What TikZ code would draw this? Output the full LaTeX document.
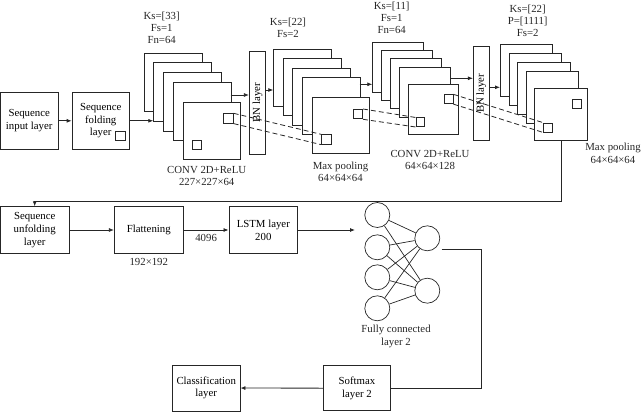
\documentclass[tikz,border=0pt]{standalone}
\usepackage{fontspec}
\setmainfont{Liberation Serif}
\usepackage{graphicx}
\usetikzlibrary{arrows.meta,positioning}

\begin{document}
\begin{tikzpicture}[x=1pt,y=-1pt]
    \useasboundingbox (0,0) rectangle (641,412);
    \tikzset{
      box/.style={draw=black!85, fill=white, align=center, inner sep=1pt, line width=0.8pt,
                  font=\fontsize{10.8}{12.7}\selectfont},
      sheet/.style={draw=black!85, fill=white, anchor=north west, inner sep=0pt, line width=0.8pt},
      tiny/.style={draw=black!85, anchor=north west, inner sep=0pt, minimum size=9.5pt, line width=0.8pt},
      lbl/.style={align=center, inner sep=0pt, text=black!85, font=\fontsize{10.8}{12.2}\selectfont},
      neuron/.style={draw=black!85, circle, minimum size=25pt, inner sep=0pt, line width=0.7pt},
      arr/.style={draw=black!85, -{Latex[length=5pt,width=4pt]}, line width=0.8pt},
      link/.style={draw=black!85, line width=0.8pt, dash pattern=on 5pt off 3pt}
    }

    % input side
    \node[box, minimum width=57.5pt, minimum height=57pt] (input) at (29.2,120.8) {Sequence\\input layer};
    \node[box, minimum width=57.3pt, minimum height=57pt] (fold) at (100.7,120.8) {Sequence\\folding\\layer};
    \node[tiny] (fsq) at (115,131) {};

    % conv 1
    \foreach \i in {0,...,3}
      \node[sheet, minimum width=58pt, minimum height=58.5pt] (s1-\i) at ({143.5+9.75*\i},{52.7+9.75*\i}) {};
    \node[sheet, minimum size=57.5pt] (s1f) at (182.5,101.7) {};
    \node[tiny] (q1u) at (223.3,113.3) {};
    \node[tiny] (q1l) at (191.7,140) {};

    \node[box, minimum width=16.4pt, minimum height=103.3pt] (bn1) at (257.5,102.7) {\rotatebox{90}{BN layer}};

    % pool 1
    \foreach \i in {0,...,3}
      \node[sheet, minimum width=58pt, minimum height=57pt] (s2-\i) at ({273.3+9.5*\i},{49+9.45*\i}) {};
    \node[sheet, minimum width=57.3pt, minimum height=56.6pt] (s2f) at (311.7,96.7) {};
    \node[tiny] (q2u) at (352.7,109) {};
    \node[tiny] (q2l) at (321,134.3) {};

    % conv 2
    \foreach \i in {0,...,3}
      \node[sheet, minimum width=50.5pt, minimum height=50pt] (s3-\i) at ({372.3+9*\i},{41.7+8.35*\i}) {};
    \node[sheet, minimum size=50pt] (s3f) at (408.3,84.3) {};
    \node[tiny, minimum size=9pt] (q3u) at (443.5,94.3) {};
    \node[tiny, minimum size=8.7pt] (q3l) at (415.7,117.5) {};

    \node[box, minimum width=15.7pt, minimum height=93.3pt] (bn2) at (481.2,93.3) {\rotatebox{90}{BN layer}};

    % pool 2
    \foreach \i in {0,...,3}
      \node[sheet, minimum width=52.3pt, minimum height=52pt] (s4-\i) at ({500+8.7*\i},{44.3+8.8*\i}) {};
    \node[sheet, minimum width=53pt, minimum height=51.7pt] (s4f) at (534.3,88.3) {};
    \node[tiny, minimum size=9pt] (q4u) at (571.7,99) {};
    \node[tiny, minimum size=9pt] (q4l) at (543.3,122.7) {};

    % labels of the maps
    \node[lbl] (k1) at (161.7,27.8) {Ks=[33]\\Fs=1\\Fn=64};
    \node[lbl] (k2) at (288,28) {Ks=[22]\\Fs=2};
    \node[lbl] (k3) at (391.7,18) {Ks=[11]\\Fs=1\\Fn=64};
    \node[lbl] (k4) at (527.7,21) {Ks=[22]\\P=[1111]\\Fs=2};
    \node[lbl] (c1) at (206.7,175.7) {CONV 2D+ReLU\\227×227×64};
    \node[lbl] (c2) at (340.5,171.5) {Max pooling\\64×64×64};
    \node[lbl] (c3) at (430,160) {CONV 2D+ReLU\\64×64×128};
    \node[lbl] (c4) at (613,153.3) {Max pooling\\64×64×64};

    \coordinate (o1) at (230.7,95);
    \coordinate (o2) at (265.7,90);
    \coordinate (o3) at (359.7,84.3);
    \coordinate (o4) at (450,78.3);
    \coordinate (o5) at (489,87.3);

    \draw[arr] (input) -- (fold);
    \draw[arr] (fold) -- (fold -| s1-1.west);
    \draw[arr] (o1) -- (o1 -| bn1.west);
    \draw[arr] (o2) -- (o2 -| s2-0.west);
    \draw[arr] (o3) -- (o3 -| s3-0.west);
    \draw[arr] (o4) -- (o4 -| bn2.west);
    \draw[arr] (o5) -- (o5 -| s4-0.west);

    \draw[link] (q1u.north east) -- (q2l.north west);
    \draw[link] (q1u.south east) -- (q2l.south west);
    \draw[link] (q2u.north east) -- (q3l.north west);
    \draw[link] (q2u.south east) -- (q3l.south west);
    \draw[link] (q3u.north east) -- (q4l.north west);
    \draw[link] (q3u.south east) -- (q4l.south west);

    % sequence part
    \node[box, minimum width=68.5pt, minimum height=46.7pt] (unfold) at (34.7,230) {Sequence\\unfolding\\layer};
    \node[box, minimum width=69pt, minimum height=46.7pt] (flat) at (148.8,230) {Flattening};
    \node[box, minimum width=68.7pt, minimum height=46.7pt] (lstm) at (263.3,230) {LSTM layer\\200};
    \node[lbl, below=4pt of flat] (flatdim) {192×192};

    \draw[arr] (s4f.south) -- ++(0,60.7) -| (unfold.north);
    \draw[arr] (unfold) -- (flat);
    \draw[arr] (flat) -- node[lbl, below=4pt] (bw) {4096} (lstm);

    % fully connected
    \foreach \i/\y in {1/215,2/247.3,3/277.3,4/308.3}
      \node[neuron] (n\i) at (377.3,\y) {};
    \node[neuron] (m1) at (427.3,238.3) {};
    \node[neuron] (m2) at (427.3,290.7) {};
    \foreach \i in {1,...,4}
      \foreach \j in {1,2}
        \draw[black!85, line width=0.7pt] (n\i) -- (m\j);
    \node[lbl] (fc) at (396,336.5) {Fully connected\\layer 2};

    \coordinate (nin) at (355,230);
    \coordinate (fout) at (441.7,249.5);
    \draw[arr] (lstm) -- (nin);

    % output
    \node[box, minimum width=67.4pt, minimum height=45pt] (soft) at (357,388.2) {Softmax\\layer 2};
    \node[box, minimum width=67.7pt, minimum height=46pt] (cls) at (206.2,388) {Classification\\layer};
    \draw[black!85, line width=0.8pt] (fout) -- ++(40,0) |- (soft.east);
    \draw[arr] (soft) -- (cls);
\end{tikzpicture}
\end{document}
